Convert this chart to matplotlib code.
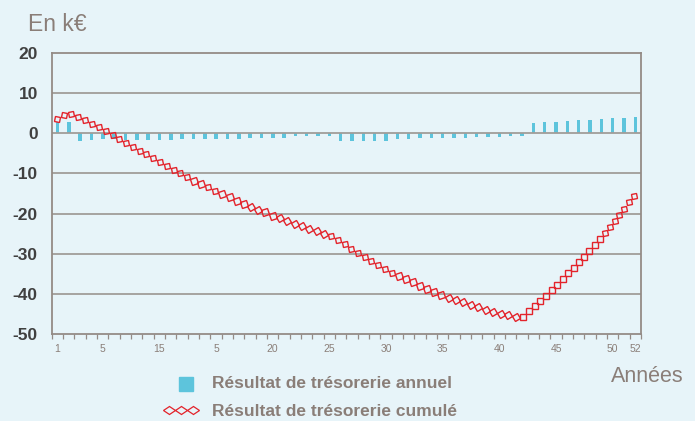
import numpy as np
import matplotlib
matplotlib.use("Agg")
import matplotlib.pyplot as plt
from matplotlib.markers import MarkerStyle
from matplotlib.transforms import Affine2D
from matplotlib.patches import Rectangle
from matplotlib.lines import Line2D

# ── data (k€) ─────────────────────────────────────────────────────────────────
years = np.arange(1, 53)
annuel = [2.9, 2.9, -1.9, -1.7, -1.4, -1.4, -1.6, -1.6, -1.6, -1.6,
          -1.6, -1.3, -1.3, -1.3, -1.3, -1.3, -1.3, -1.1, -1.1, -1.1,
          -1.1, -0.8, -0.8, -0.8, -0.8, -1.9, -1.9, -1.9, -1.9, -1.9,
          -1.4, -1.4, -1.1, -1.1, -1.1, -1.1, -1.1, -0.85, -0.85, -0.85,
          -0.6, -0.6, 2.5, 2.7, 2.7, 3.0, 3.2, 3.2, 3.5, 3.7,
          3.7, 4.0]
cumule = [3.6, 5.2, 3.8, 2.4, 1.0, -0.6, -2.3, -3.9, -5.5, -7.0,
          -8.6, -10.2, -11.8, -13.0, -14.4, -15.7, -17.0, -18.2, -19.3, -20.5,
          -21.6, -22.6, -23.5, -24.5, -25.4, -27.1, -28.8, -30.5, -32.3, -34.0,
          -35.4, -36.7, -38.0, -39.2, -40.4, -41.4, -42.3, -43.2, -44.1, -44.9,
          -45.4, -46.0, -43.4, -40.8, -38.0, -35.1, -32.3, -29.1, -25.9, -22.4,
          -18.8, -15.3]
tick_years = [1, 5, 10, 15, 20, 25, 30, 35, 40, 45, 50, 52]
tick_labels = ["1", "5", "15", "5", "20", "25", "30", "35", "40", "45", "50", "52"]
y_ticks = [20, 10, 0, -10, -20, -30, -40, -50]

# ── style ─────────────────────────────────────────────────────────────────────
BG    = "#e7f4f9"
BAR   = "#5dc4dc"
RED   = "#e3232b"
GRID  = "#a19d99"
SPINE = "#948b86"
TXT   = "#8a7e78"
DARK  = "#404040"
plt.rcParams["font.family"] = ["Liberation Sans", "DejaVu Sans"]

W, H = 695, 421


def fx(px):
    return px / W


def fy(py):
    return 1 - py / H


fig = plt.figure(figsize=(W / 100, H / 100), dpi=100, facecolor=BG)
ax = fig.add_axes([fx(51.7), fy(334), (641 - 51.7) / W, (334 - 53) / H])
ax.set_facecolor(BG)
ax.set_xlim(0.5, 52.5)
ax.set_ylim(-50, 20)

ax.bar(years, annuel, width=0.32, color=BAR, zorder=1)
for yv in y_ticks[1:-1]:
    ax.axhline(yv, color=GRID, lw=1.3, zorder=2)

for sp in ax.spines.values():
    sp.set_color(SPINE)
    sp.set_linewidth(1.3)

ax.set_yticks(y_ticks)
ax.set_yticklabels([str(v) for v in y_ticks])
ax.tick_params(axis="y", length=0, pad=10, labelsize=12.5, labelcolor=DARK)
for lab in ax.get_yticklabels():
    lab.set_fontweight("bold")

ax.set_xticks(tick_years)
ax.set_xticklabels(tick_labels)
ax.set_xticks(np.arange(0.5, 53, 1), minor=True)
ax.tick_params(axis="x", which="major", length=0, pad=7, labelsize=7.5, labelcolor=TXT)
ax.tick_params(axis="x", which="minor", length=3.5, width=0.9, color=SPINE, direction="out")

# cumulative curve: chain of squares laid diagonal-on along the path
pts = ax.transData.transform(np.column_stack([years, cumule]))
seg = np.diff(pts, axis=0)
seg_len = np.hypot(seg[:, 0], seg[:, 1])
s_cum = np.concatenate([[0], np.cumsum(seg_len)])
step = 7.8
inv = ax.transData.inverted()
for s in np.arange(0, s_cum[-1] + 0.01, step):
    i = min(np.searchsorted(s_cum, s, side="right") - 1, len(seg) - 1)
    t = (s - s_cum[i]) / seg_len[i]
    x, y = inv.transform(pts[i] + t * seg[i])
    ang = np.degrees(np.arctan2(seg[i, 1], seg[i, 0]))
    m = MarkerStyle("s", transform=Affine2D().rotate_deg(ang + 45))
    ax.plot(x, y, marker=m, ms=step / np.sqrt(2) * 0.72, mfc="none", mec=RED,
            mew=1.0, ls="none", zorder=3, clip_on=False)

# ── labels & legend ───────────────────────────────────────────────────────────
fig.text(fx(28), fy(31), "En k€", size=16.5, color=TXT, va="baseline")
fig.text(fx(611), fy(376), "Années", size=15.5, color=TXT, va="center")

fig.patches.append(Rectangle((fx(179), fy(391)), 14 / W, 14 / H,
                             transform=fig.transFigure, color=BAR))
fig.text(fx(212), fy(384), "Résultat de trésorerie annuel", size=12.5,
         fontweight="bold", color=TXT, va="center")

diamond = MarkerStyle("D", transform=Affine2D().scale(1.5, 1.0))
fig.add_artist(Line2D([fx(169), fx(181), fx(193)], [fy(410)] * 3,
                      transform=fig.transFigure, ls="none", marker=diamond,
                      ms=4.1, mfc="none", mec=RED, mew=0.9))
fig.text(fx(212), fy(411), "Résultat de trésorerie cumulé", size=12.5,
         fontweight="bold", color=TXT, va="center")

fig.savefig("out.png", dpi=100, facecolor=BG)
